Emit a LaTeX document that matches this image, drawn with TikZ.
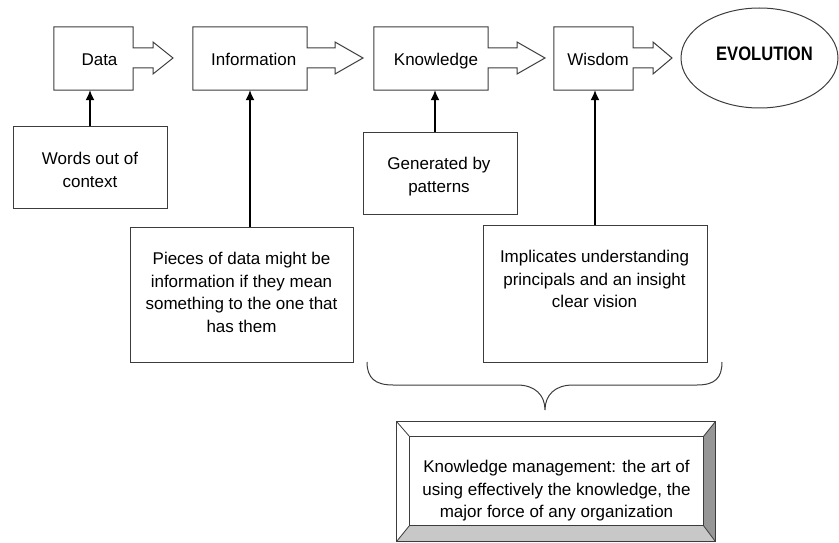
\documentclass[tikz,border=0pt]{standalone}
\usepackage{fontspec}
\setmainfont{Liberation Sans}
\usepackage{graphicx}
\usetikzlibrary{arrows.meta,shapes.geometric}
\definecolor{boxgray}{RGB}{60,60,60}
\definecolor{bevdark}{RGB}{150,150,150}
\definecolor{bevlight}{RGB}{200,200,200}
\tikzset{
  lbl/.style={font=\fontsize{17}{22.7}\selectfont, align=center, inner sep=0pt},
  stagebox/.style={rectangle, inner sep=0pt, minimum height=63pt},
  outline/.style={draw=boxgray, line width=1pt, line join=miter},
  textbox/.style={rectangle, draw=boxgray, line width=1pt, inner sep=0pt},
  conn/.style={draw=black, line width=1.3pt, -{Latex[length=10pt,width=9pt]}},
}
\newcommand\stagearrow[3]{%
  \draw[outline] (#1.north west) -- (#1.north east) -- (#1.east |- sh1) -- (#2,48) -- (#2,42) -- (#3,58) -- (#2,74) -- (#2,68) -- (#1.east |- sh2) -- (#1.south east) -- (#1.south west) -- cycle;}
\begin{document}
\begin{tikzpicture}[x=1pt,y=-1pt]
\useasboundingbox (0,0) rectangle (839,543);
\coordinate (sh1) at (0,48);
\coordinate (sh2) at (0,68);

% top row stages
\node[stagebox, minimum width=79pt] (data) at (93.5,58.5) {};
\node[stagebox, minimum width=114pt] (info) at (250,58.5) {};
\node[stagebox, minimum width=114pt] (know) at (431,58.5) {};
\node[stagebox, minimum width=79pt] (wis) at (593.5,58.5) {};
\stagearrow{data}{153}{173}
\stagearrow{info}{335}{363}
\stagearrow{know}{517}{545}
\stagearrow{wis}{653}{672}
\node[lbl, anchor=base] (datat) at (99.5,65.5) {Data};
\node[lbl, anchor=base] (infot) at (253.7,65.5) {Information};
\node[lbl, anchor=base] (knowt) at (436,65.5) {Knowledge};
\node[lbl, anchor=base] (wist) at (598,65.5) {Wisdom};

% evolution ellipse
\node[ellipse, draw=boxgray, line width=1pt, inner sep=0pt, minimum width=157pt, minimum height=100pt] (evo) at (759.5,58) {};
\node[lbl, anchor=base] (evot) at (764.5,60.7) {\fontsize{19.5}{22}\selectfont\bfseries\scalebox{0.85}[1]{EVOLUTION}};

% description boxes
\node[textbox, minimum width=154pt, minimum height=81pt] (words) at (90,167.5) {};
\node[lbl, anchor=north] (wordst) at (90,152) {Words out of\\context};
\node[textbox, minimum width=223pt, minimum height=135pt] (pieces) at (241.5,294.5) {};
\node[lbl, anchor=north] (piecest) at (241.5,252) {Pieces of data might be\\information if they mean\\something to the one that\\has them};
\node[textbox, minimum width=154pt, minimum height=81pt] (gen) at (440,173.5) {};
\node[lbl, anchor=north] (gent) at (439,157) {Generated by\\patterns};
\node[textbox, minimum width=224pt, minimum height=137pt] (impl) at (595,293.5) {};
\node[lbl, anchor=north] (implt) at (594.5,250) {Implicates understanding\\principals and an insight\\clear vision};

% connectors
\draw[conn] (words.north) -- (words.north |- data.south);
\draw[conn] (pieces.north -| info.south) -- (info.south);
\draw[conn] ([xshift=-5pt]gen.north) -- ([xshift=-5pt]gen.north |- know.south);
\draw[conn] (impl.north) -- (impl.north |- wis.south);

% brace
\draw[draw=boxgray, line width=1pt] (367,362) .. controls (367,378) and (375,385) .. (393,385) -- (517,385) .. controls (535,385) and (545,395) .. (545,410)
  .. controls (545,395) and (555,385) .. (573,385) -- (697,385) .. controls (715,385) and (722,378) .. (722,362);

% bevel box
\node[rectangle, inner sep=0pt, minimum width=318pt, minimum height=119pt] (km) at (556,481.5) {};
\node[rectangle, inner sep=0pt, minimum width=293pt, minimum height=88pt] (kmin) at (556.5,481) {};
\fill[white] (km.north west) rectangle (km.south east);
\fill[bevdark] (km.north east) -- (km.south east) -- (kmin.south east) -- (kmin.north east) -- cycle;
\fill[bevlight] (km.south west) -- (km.south east) -- (kmin.south east) -- (kmin.south west) -- cycle;
\draw[draw=boxgray, line width=1pt] (km.north west) rectangle (km.south east);
\draw[draw=boxgray, line width=1pt] (kmin.north west) rectangle (kmin.south east);
\draw[draw=boxgray, line width=0.8pt] (km.north west) -- (kmin.north west);
\draw[draw=boxgray, line width=0.8pt] (km.north east) -- (kmin.north east);
\draw[draw=boxgray, line width=0.8pt] (km.south west) -- (kmin.south west);
\draw[draw=boxgray, line width=0.8pt] (km.south east) -- (kmin.south east);
\node[lbl, anchor=north] (kmt) at (556.5,460) {Knowledge management: the art of\\using effectively the knowledge, the\\major force of any organization};
\end{tikzpicture}
\end{document}
